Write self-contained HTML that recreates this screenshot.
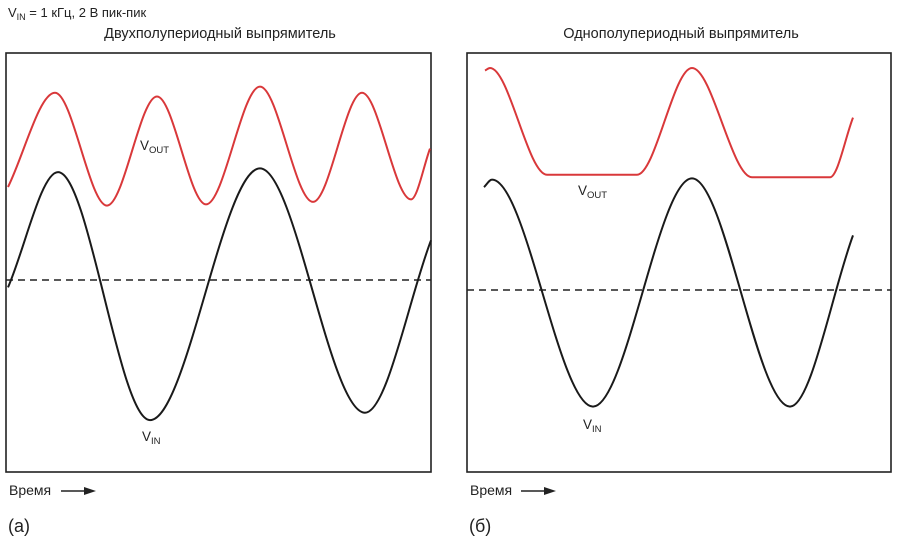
<!DOCTYPE html>
<html><head><meta charset="utf-8"><style>
body{margin:0;background:#fff;}
svg{display:block;font-family:"Liberation Sans","DejaVu Sans",sans-serif;}
</style></head><body>
<svg id="c" width="898" height="544" viewBox="0 0 898 544" xmlns="http://www.w3.org/2000/svg">
<text x="8" y="17" font-size="13" fill="#222">V<tspan font-size="9" dy="3">IN</tspan><tspan dy="-3"> = 1 кГц, 2 В пик-пик</tspan></text>
<text x="220" y="38" font-size="14.5" fill="#222" text-anchor="middle">Двухполупериодный выпрямитель</text>
<text x="681" y="38" font-size="14.5" fill="#222" text-anchor="middle">Однополупериодный выпрямитель</text>
<rect x="6" y="53" width="425" height="419" fill="none" stroke="#222" stroke-width="1.6"/>
<rect x="467" y="53" width="424" height="419" fill="none" stroke="#222" stroke-width="1.6"/>
<line x1="6" y1="280" x2="431" y2="280" stroke="#222" stroke-width="1.6" stroke-dasharray="7,5"/>
<line x1="467" y1="290" x2="891" y2="290" stroke="#222" stroke-width="1.6" stroke-dasharray="7,5"/>
<g id="series"></g>
<text x="140" y="150" font-size="13.5" fill="#222">V<tspan font-size="9.5" dy="3">OUT</tspan></text>
<text x="142" y="441" font-size="13.5" fill="#222">V<tspan font-size="9.5" dy="3">IN</tspan></text>
<text x="578" y="195" font-size="13.5" fill="#222">V<tspan font-size="9.5" dy="3">OUT</tspan></text>
<text x="583" y="429" font-size="13.5" fill="#222">V<tspan font-size="9.5" dy="3">IN</tspan></text>
<g>
<text x="9" y="495" font-size="14" fill="#222">Время</text>
<line x1="61" y1="491" x2="86" y2="491" stroke="#222" stroke-width="1.5"/><path d="M96,491 L84,487 L84,495 Z" fill="#222"/></g>
<g>
<text x="470" y="495" font-size="14" fill="#222">Время</text>
<line x1="521" y1="491" x2="546" y2="491" stroke="#222" stroke-width="1.5"/><path d="M556,491 L544,487 L544,495 Z" fill="#222"/></g>
<text x="8" y="532" font-size="18" fill="#222">(a)</text>
<text x="469" y="532" font-size="18" fill="#222">(б)</text>
</svg>
<script>
// times in ms, values in volts
const fullVinT=[0.01,0.26,0.72,1.27,1.795,2.125];
const fullVinV=[-0.06,0.87,-1.13,0.90,-1.07,0.32];
const fullVoutT=[0.01,0.245,0.505,0.755,1.0,1.27,1.535,1.78,2.025,2.12];
const fullVoutV=[0.75,1.51,0.60,1.48,0.61,1.56,0.63,1.51,0.65,1.06];
const halfVinT=[0.085,0.125,0.63,1.125,1.615,1.93];
const halfVinV=[0.83,0.89,-0.94,0.90,-0.94,0.44];
const halfVoutT=[0.09,0.115,0.4,0.85,1.125,1.425,1.815,1.93];
const halfVoutV=[1.77,1.79,0.93,0.93,1.79,0.91,0.91,1.39];

function xAxis(left){return t=>left+t*200;}
function yAxis(zero){return v=>zero-v*124;}
function monoPath(xs,ys){
  const n=xs.length,d=[],m=[];
  for(let i=0;i<n-1;i++)d.push((ys[i+1]-ys[i])/(xs[i+1]-xs[i]));
  m[0]=d[0];m[n-1]=d[n-2];
  for(let i=1;i<n-1;i++){m[i]=(d[i-1]*d[i]<=0)?0:(d[i-1]+d[i])/2;}
  for(let i=0;i<n-1;i++){if(d[i]===0){m[i]=0;m[i+1]=0;}}
  let p='M'+xs[0].toFixed(1)+','+ys[0].toFixed(1);
  for(let i=0;i<n-1;i++){const h=(xs[i+1]-xs[i])/3;
    p+=' C'+(xs[i]+h).toFixed(1)+','+(ys[i]+m[i]*h).toFixed(1)+' '+(xs[i+1]-h).toFixed(1)+','+(ys[i+1]-m[i+1]*h).toFixed(1)+' '+xs[i+1].toFixed(1)+','+ys[i+1].toFixed(1);}
  return p;
}
const g=document.getElementById('series');
function draw(T,V,xf,yf,color,name){
  const el=document.createElementNS('http://www.w3.org/2000/svg','path');
  el.setAttribute('d',monoPath(T.map(xf),V.map(yf)));
  el.setAttribute('fill','none');el.setAttribute('stroke',color);el.setAttribute('stroke-width','2');
  
  
  g.appendChild(el);
}
const xL=xAxis(6),yL=yAxis(280),xR=xAxis(467),yR=yAxis(290);
draw(fullVoutT,fullVoutV,xL,yL,'#d9383a','full-wave-vout-line');
draw(fullVinT,fullVinV,xL,yL,'#1a1a1a','full-wave-vin-line');
draw(halfVoutT,halfVoutV,xR,yR,'#d9383a','half-wave-vout-line');
draw(halfVinT,halfVinV,xR,yR,'#1a1a1a','half-wave-vin-line');
</script>
</body></html>
